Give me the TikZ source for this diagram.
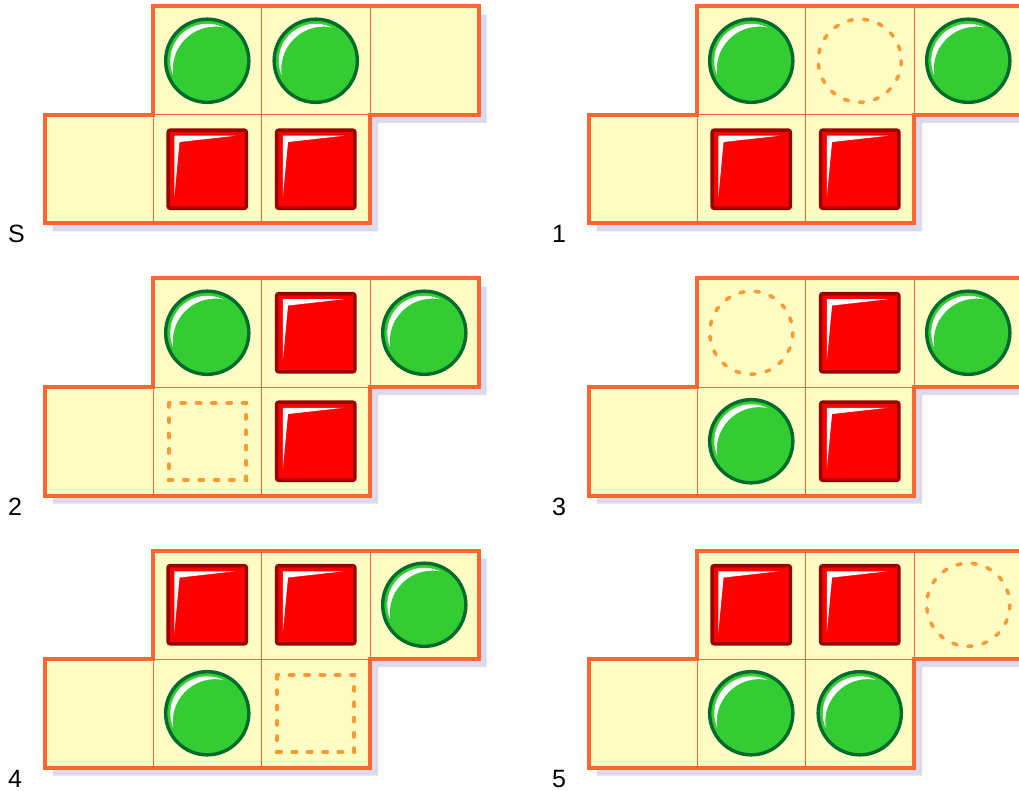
\documentclass[tikz,border=0pt]{standalone}
\usepackage{fontspec}
\setmainfont{Liberation Sans}
\definecolor{cellfill}{HTML}{FFFDC4}
\definecolor{edgec}{HTML}{FF6633}
\definecolor{shadowc}{HTML}{DCDBEC}
\definecolor{ballg}{HTML}{33CC33}
\definecolor{balld}{HTML}{006B2A}
\definecolor{boxr}{HTML}{FF0000}
\definecolor{boxd}{HTML}{9A0000}
\definecolor{holec}{HTML}{FF9933}
\tikzset{
  outlinepath/.style={line width=4, line join=miter, draw=edgec},
  gridline/.style={line width=1, draw=edgec},
  holeline/.style={draw=holec, line width=3.6, dash pattern=on 4.2 off 11.14, line cap=round},
  labelfont/.style={font=\fontsize{25}{30}\selectfont, inner sep=0pt, anchor=base west},
  greenball/.pic={
    \fill[ballg, draw=balld, line width=3.4] (0,0) circle[radius=41.6];
    \begin{scope}[yscale=-1]
      \fill[white] (64:37) arc[start angle=64, end angle=203, radius=37]
        arc[start angle=188.4, end angle=78.7, radius=42.4] -- cycle;
    \end{scope}
  },
  redbox/.pic={
    \fill[boxr, draw=boxd, line width=3.4, rounded corners=2] (-39.1,-39.1) rectangle (39.1,39.1);
    \fill[white] (-33,-33.5) -- (28,-33.5) -- (-27.7,-27.2) -- (-33,28.8) -- cycle;
  },
  holecirc/.pic={
    \draw[holeline] (0,0) circle[radius=41.5];
  },
  holebox/.pic={
    \draw[holeline] (-38.5,-38.5) rectangle (38.5,38.5);
  }
}
% #1,#2 origin; #3 label; #4 T1; #5 T2; #6 T3; #7 B1; #8 B2
\newcommand\drawpanel[8]{%
  \begin{scope}[shift={(#1,#2)}]
    \fill[shadowc, shift={(8,8)}] (108.5,0) -- (434,0) -- (434,108.5) -- (325.5,108.5) -- (325.5,217) -- (0,217) -- (0,108.5) -- (108.5,108.5) -- cycle;
    \fill[cellfill] (108.5,0) -- (434,0) -- (434,108.5) -- (325.5,108.5) -- (325.5,217) -- (0,217) -- (0,108.5) -- (108.5,108.5) -- cycle;
    \draw[gridline] (108.5,108.5) -- (108.5,217);
    \draw[gridline] (217,0) -- (217,217);
    \draw[gridline] (325.5,0) -- (325.5,108.5);
    \draw[gridline] (108.5,108.5) -- (325.5,108.5);
    \draw[outlinepath] (108.5,0) -- (434,0) -- (434,108.5) -- (325.5,108.5) -- (325.5,217) -- (0,217) -- (0,108.5) -- (108.5,108.5) -- cycle;
    \node[labelfont] (lab#3) at (-36.5,236.5) {#3};
    \pic at (162.75,54.25) {#4};
    \pic at (271.25,54.25) {#5};
    \pic at (379.75,54.25) {#6};
    \pic at (162.75,162.75) {#7};
    \pic at (271.25,162.75) {#8};
  \end{scope}}
\tikzset{nothing/.pic={}}
\begin{document}
\begin{tikzpicture}[x=1pt, y=-1pt]
  \useasboundingbox (0,0) rectangle (1019,791);
  \clip (0,0) rectangle (1019,791);
  \fill[white] (0,0) rectangle (1019,791);
  \drawpanel{44.5}{6.5}{S}{greenball}{greenball}{nothing}{redbox}{redbox}
  \drawpanel{588.5}{6.5}{1}{greenball}{holecirc}{greenball}{redbox}{redbox}
  \drawpanel{44.5}{278.5}{2}{greenball}{redbox}{greenball}{holebox}{redbox}
  \drawpanel{588.5}{278.5}{3}{holecirc}{redbox}{greenball}{greenball}{redbox}
  \drawpanel{44.5}{550.5}{4}{redbox}{redbox}{greenball}{greenball}{holebox}
  \drawpanel{588.5}{550.5}{5}{redbox}{redbox}{holecirc}{greenball}{greenball}
\end{tikzpicture}
\end{document}
